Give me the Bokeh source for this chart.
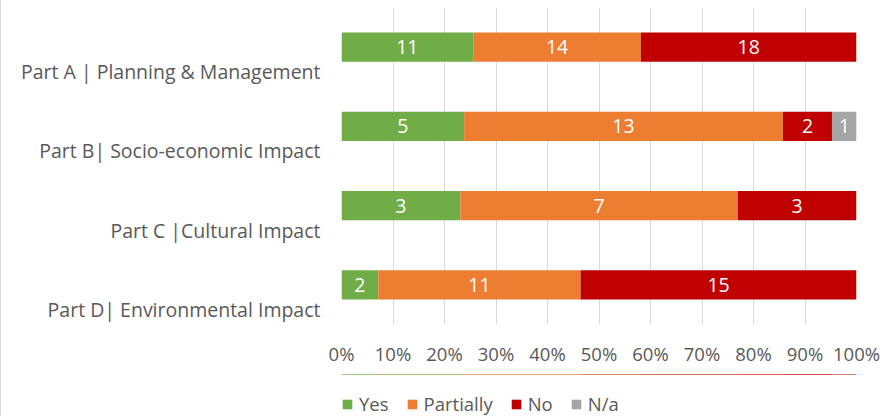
import numpy as np
from bokeh.plotting import figure
from bokeh.layouts import column
from bokeh.models import FixedTicker, NumeralTickFormatter, Legend, LegendItem, ColumnDataSource
from bokeh.core.properties import value
from bokeh.embed import file_html
from bokeh.resources import INLINE

categories = ["Part A | Planning & Management", "Part B| Socio-economic Impact",
              "Part C |Cultural Impact", "Part D| Environmental Impact"]
series = ["Yes", "Partially", "No", "N/a"]
yes = [11, 5, 3, 2]
partially = [14, 13, 7, 11]
no = [18, 2, 3, 15]
na = [0, 1, 0, 0]
colors = ["#70AD47", "#ED7D31", "#C00000", "#A5A5A5"]
tick_values = [0, 0.1, 0.2, 0.3, 0.4, 0.5, 0.6, 0.7, 0.8, 0.9, 1.0]

FONT = "Open Sans"
TXT = "#595959"

vals = np.array([yes, partially, no, na], dtype=float)
totals = vals.sum(axis=0)
frac = vals / totals
cum = np.cumsum(frac, axis=0)
lefts = cum - frac

n = len(categories)
ypos = np.arange(n)[::-1] + 0.5          # first category on top
label_pos = [round(float(y) - 0.31, 2) for y in ypos]  # labels sit below bar centres

p = figure(width=895, height=374, output_backend="svg", toolbar_location=None,
           y_range=(0, n), x_range=(0, 1), min_border_left=340, min_border_right=40,
           min_border_top=7, min_border_bottom=50)
p.outline_line_color = None
p.background_fill_color = "white"
p.border_fill_color = "white"
p.styles = {"border-left": "1px solid #D9D9D9"}

for i, s in enumerate(series):
    src = ColumnDataSource(dict(y=ypos, left=lefts[i], right=cum[i]))
    p.hbar(y="y", left="left", right="right", height=0.37, source=src,
           fill_color=colors[i], line_color=None)
    mask = vals[i] > 0
    lsrc = ColumnDataSource(dict(
        y=ypos[mask],
        x=((lefts[i] + cum[i]) / 2)[mask],
        t=[str(int(v)) for v in vals[i][mask]]))
    p.text(x="x", y="y", text="t", source=lsrc, text_color="white",
           text_align="center", text_baseline="middle",
           text_font=value(FONT), text_font_size="19.5px")

# y axis: category names
p.yaxis.ticker = FixedTicker(ticks=label_pos)
p.yaxis.major_label_overrides = {lp: c for lp, c in zip(label_pos, categories)}
p.yaxis.axis_line_color = None
p.yaxis.major_tick_line_color = None
p.yaxis.minor_tick_line_color = None
p.yaxis.major_tick_out = 0
p.yaxis.major_label_standoff = 21
p.yaxis.major_label_text_font = FONT
p.yaxis.major_label_text_font_size = "19.5px"
p.yaxis.major_label_text_color = TXT
p.ygrid.grid_line_color = None

# x axis
p.xgrid.grid_line_color = "#D9D9D9"
p.xaxis.ticker = FixedTicker(ticks=tick_values)
p.xaxis.formatter = NumeralTickFormatter(format="0%")
p.xaxis.axis_line_color = None
p.xaxis.major_tick_line_color = None
p.xaxis.minor_tick_line_color = None
p.xaxis.major_tick_out = 0
p.xaxis.major_label_standoff = 16
p.xaxis.major_label_text_font = FONT
p.xaxis.major_label_text_font_size = "18.5px"
p.xaxis.major_label_text_color = TXT

# legend strip below the chart (series bars drawn out of view, used as legend proxies)
lg = figure(width=895, height=42, output_backend="svg", toolbar_location=None,
            x_range=(0, 1), y_range=(-2, -1), x_axis_type=None, y_axis_type=None,
            min_border_left=0, min_border_right=0, min_border_top=0, min_border_bottom=0)
lg.outline_line_color = None
lg.grid.grid_line_color = None
lg.background_fill_color = "white"
lg.border_fill_color = "white"
lg.styles = {"border-left": "1px solid #D9D9D9"}
proxies = []
for i, c in enumerate(colors):
    src = ColumnDataSource(dict(y=ypos, left=lefts[i], right=cum[i]))
    proxies.append(lg.hbar(y="y", left="left", right="right", height=0.37, source=src,
                           fill_color=c, line_color=None))
legend = Legend(items=[LegendItem(label=s, renderers=[r]) for s, r in zip(series, proxies)],
                orientation="horizontal", location=(0, 0),
                glyph_width=12, glyph_height=12, label_standoff=6, spacing=17,
                padding=0, margin=0, label_height=18,
                label_text_font=FONT, label_text_font_size="18.5px",
                label_text_color=TXT, border_line_color=None, background_fill_alpha=0)
lg.add_layout(legend)

layout = column(p, lg, spacing=0)
open("out.html", "w").write(file_html(layout, INLINE))
